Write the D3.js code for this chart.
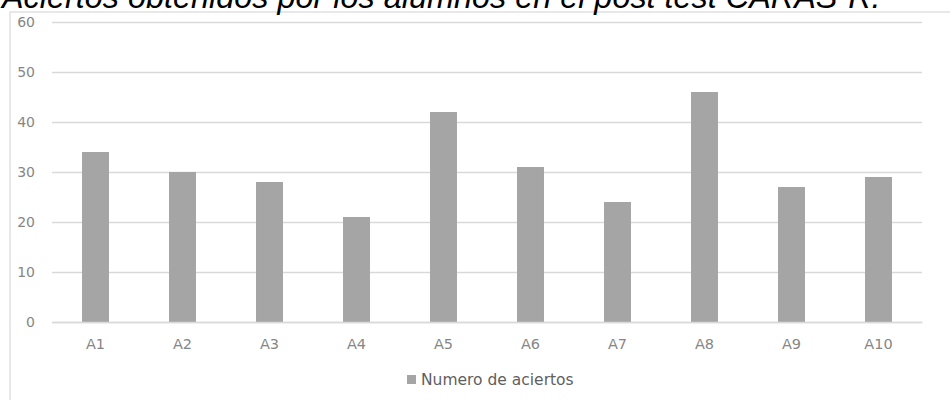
<!DOCTYPE html>
<html>
<head>
<meta charset="utf-8">
<script src="https://cdn.jsdelivr.net/npm/d3@7"></script>
<style>
  html, body { margin: 0; padding: 0; background: #fff; }
  svg { display: block; }
</style>
</head>
<body>
<svg id="chart" width="950" height="400"></svg>
<script>
// Students and their number of correct answers
const categories = ["A1", "A2", "A3", "A4", "A5", "A6", "A7", "A8", "A9", "A10"];
const aciertos = [34, 30, 28, 21, 42, 31, 24, 46, 27, 29];
const yTicks = [0, 10, 20, 30, 40, 50, 60];
const seriesName = "Numero de aciertos";
const titleText = "Aciertos obtenidos por los alumnos en el post test CARAS-R.";

const svg = d3.select("#chart");
const margin = { left: 52, right: 28, top: 22, bottom: 78 };
const W = 950, H = 400;

const x = d3.scaleBand()
  .domain(categories)
  .range([margin.left, W - margin.right])
  .paddingInner(0.69)
  .paddingOuter(0.345);

const y = d3.scaleLinear()
  .domain([0, 60])
  .range([H - margin.bottom, margin.top]);

// Chart area frame
svg.append("rect")
  .attr("x", 10).attr("y", 12)
  .attr("width", 960).attr("height", 420)
  .attr("fill", "none")
  .attr("stroke", "#d9d9d9")
  .attr("stroke-width", 1.2);

// Title
svg.append("text")
  .attr("x", 2).attr("y", 8)
  .attr("font-family", "Liberation Sans, Arial, sans-serif")
  .attr("font-style", "italic")
  .attr("font-size", 32.4)
  .attr("fill", "#000")
  .text(titleText);

// Horizontal gridlines with value labels
const yAxis = d3.axisLeft(y)
  .tickValues(yTicks)
  .tickSize(-(W - margin.left - margin.right))
  .tickPadding(17);

const gy = svg.append("g")
  .attr("transform", `translate(${margin.left},0)`)
  .call(yAxis);
gy.select(".domain").remove();
gy.selectAll(".tick line")
  .attr("stroke", "#d9d9d9")
  .attr("stroke-width", 1.5);
gy.selectAll(".tick text")
  .attr("font-family", "DejaVu Sans, sans-serif")
  .attr("font-size", 14)
  .attr("fill", "#868686");

// Bars
svg.append("g")
  .selectAll("rect")
  .data(categories.map((c, i) => ({ c, v: aciertos[i] })))
  .join("rect")
  .attr("x", d => x(d.c))
  .attr("width", x.bandwidth())
  .attr("y", d => y(d.v))
  .attr("height", d => y(0) - y(d.v))
  .attr("fill", "#a5a5a5");

// Category axis
const xAxis = d3.axisBottom(x).tickSize(0).tickPadding(17);
const gx = svg.append("g")
  .attr("transform", `translate(0,${y(0)})`)
  .call(xAxis);
gx.select(".domain")
  .attr("stroke", "#d9d9d9")
  .attr("stroke-width", 1.5);
gx.selectAll(".tick text")
  .attr("font-family", "DejaVu Sans, sans-serif")
  .attr("font-size", 14.5)
  .attr("fill", "#868686");

// Legend
const legend = svg.append("g").attr("transform", "translate(407,380)");
legend.append("rect")
  .attr("x", 0).attr("y", -5)
  .attr("width", 9).attr("height", 9)
  .attr("fill", "#a5a5a5");
legend.append("text")
  .attr("x", 14).attr("y", 0)
  .attr("dy", "0.35em")
  .attr("font-family", "DejaVu Sans, sans-serif")
  .attr("font-size", 15.5)
  .attr("fill", "#5f5f5f")
  .text(seriesName);
</script>
</body>
</html>
